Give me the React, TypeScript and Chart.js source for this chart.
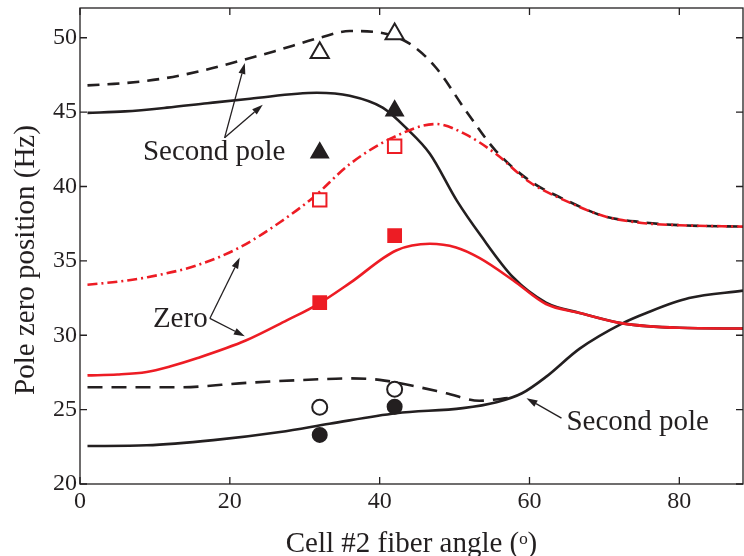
import React, { useEffect, useRef } from "react";
import { Chart, registerables } from "chart.js";

Chart.register(...registerables);

const RED = "#ED1C24";
const BLACK = "#231F20";
const FONT = "'Liberation Serif', 'DejaVu Serif', serif";

// axis ticks
const xTicks = [0, 20, 40, 60, 80];
const yTicks = [20, 25, 30, 35, 40, 45, 50];
const yTitle = "Pole zero position (Hz)";
const xTitle = "Cell #2 fiber angle (ᵒ)";

// upper "second pole" dashed curve
const upperDashX = [1, 6, 11, 16, 21, 26, 32, 36, 40, 44, 47.5, 51.5, 55.5, 60, 65, 70, 75, 80, 88.5];
const upperDashY = [46.8, 46.95, 47.25, 47.75, 48.4, 49.1, 50.0, 50.45, 50.35, 49.6, 48.0, 45.1, 42.4, 40.4, 39.05, 38.0, 37.6, 37.4, 37.3];

// upper "second pole" solid curve
const upperSolidX = [1, 6, 11.6, 17, 22.7, 31.6, 36, 40.4, 43.6, 46.7, 50.3, 53.5, 57.8, 62.2, 66.7, 72.4, 80, 88.5];
const upperSolidY = [44.95, 45.05, 45.3, 45.6, 45.9, 46.3, 46.1, 45.3, 43.9, 42.2, 39.05, 36.7, 33.9, 32.2, 31.5, 30.8, 30.5, 30.45];

// "zero" dash-dot curve
const zeroDashX = [1, 5, 9, 15.6, 21.3, 26.7, 31.1, 36, 41.8, 47.5, 51.5, 55.5, 60, 65, 70, 75, 80, 88.5];
const zeroDashY = [33.4, 33.6, 33.9, 34.7, 35.9, 37.6, 39.25, 41.5, 43.3, 44.2, 43.5, 42.2, 40.3, 39.0, 38.0, 37.55, 37.4, 37.3];

// "zero" solid curve
const zeroSolidX = [1, 5, 8.9, 12, 15.6, 22.2, 27.6, 31.8, 36, 42.2, 46.7, 50.2, 53.3, 57.8, 62.2, 66.7, 72.4, 80, 88.5];
const zeroSolidY = [27.3, 27.36, 27.53, 27.9, 28.45, 29.66, 31.0, 32.1, 33.5, 35.7, 36.15, 35.9, 35.2, 33.7, 32.1, 31.5, 30.8, 30.5, 30.45];

// lower dashed curve
const lowerDashX = [1, 13.3, 22.2, 32.4, 36, 40, 44.4, 48.9, 53.3, 57.5];
const lowerDashY = [26.5, 26.5, 26.8, 27.05, 27.1, 27.0, 26.6, 26.1, 25.6, 25.8];

// lower "second pole" solid curve
const lowerSolidX = [1, 8.9, 17.8, 26.7, 33.3, 42.2, 51.1, 55.6, 59, 62.2, 66.7, 72.4, 75.6, 81.3, 88.5];
const lowerSolidY = [22.55, 22.6, 22.95, 23.5, 24.05, 24.76, 25.1, 25.5, 26.1, 27.2, 29.1, 30.8, 31.5, 32.5, 33.0];

// measured points
const measX = [32, 42];
const openTriY = [49.0, 50.25];
const fillTriY = [42.27, 45.1];
const openSqY = [39.1, 42.7];
const fillSqY = [32.2, 36.7];
const openCircY = [25.16, 26.37];
const fillCircY = [23.3, 25.2];

// annotations (data coordinates)
const noteTexts = [
  { text: "Second pole", x: 8.4, y: 41.8 },
  { text: "Zero", x: 9.73, y: 30.53 },
  { text: "Second pole", x: 64.93, y: 23.62 },
];
const noteArrows = [
  { fx: 19.3, fy: 43.27, tx: 22.0, ty: 48.3 },
  { fx: 19.3, fy: 43.27, tx: 24.4, ty: 45.5 },
  { fx: 17.33, fy: 31.13, tx: 21.33, ty: 35.22 },
  { fx: 17.33, fy: 31.13, tx: 22.0, ty: 29.93 },
  { fx: 64.27, fy: 24.43, tx: 59.6, ty: 25.77 },
];

const pts = (xs: number[], ys: number[]) => xs.map((x, i) => ({ x, y: ys[i] }));

const framePlugin = {
  id: "frameNotes",
  afterDatasetsDraw(chart: any) {
    const { ctx, chartArea: a, scales } = chart;
    const xs = scales.x;
    const ys = scales.y;
    ctx.save();
    ctx.strokeStyle = BLACK;
    ctx.lineWidth = 1.3;
    ctx.strokeRect(a.left, a.top, a.right - a.left, a.bottom - a.top);
    const tl = 7;
    ctx.beginPath();
    xTicks.forEach((v) => {
      const p = xs.getPixelForValue(v);
      ctx.moveTo(p, a.bottom);
      ctx.lineTo(p, a.bottom - tl);
      ctx.moveTo(p, a.top);
      ctx.lineTo(p, a.top + tl);
    });
    yTicks.forEach((v) => {
      const p = ys.getPixelForValue(v);
      ctx.moveTo(a.left, p);
      ctx.lineTo(a.left + tl, p);
      ctx.moveTo(a.right, p);
      ctx.lineTo(a.right - tl, p);
    });
    ctx.stroke();

    // y axis title
    ctx.fillStyle = BLACK;
    ctx.font = `29px ${FONT}`;
    ctx.save();
    ctx.translate(26, (a.top + a.bottom) / 2 + 14);
    ctx.rotate(-Math.PI / 2);
    ctx.textAlign = "center";
    ctx.textBaseline = "middle";
    ctx.fillText(yTitle, 0, 0);
    ctx.restore();

    // annotation text
    ctx.textAlign = "left";
    ctx.textBaseline = "alphabetic";
    noteTexts.forEach((n) => {
      ctx.fillText(n.text, xs.getPixelForValue(n.x), ys.getPixelForValue(n.y));
    });

    // arrows
    ctx.lineWidth = 1.3;
    noteArrows.forEach((r) => {
      const x1 = xs.getPixelForValue(r.fx);
      const y1 = ys.getPixelForValue(r.fy);
      const x2 = xs.getPixelForValue(r.tx);
      const y2 = ys.getPixelForValue(r.ty);
      const ang = Math.atan2(y2 - y1, x2 - x1);
      const hl = 11;
      const hw = 3.5;
      const bx = x2 - hl * Math.cos(ang);
      const by = y2 - hl * Math.sin(ang);
      ctx.beginPath();
      ctx.moveTo(x1, y1);
      ctx.lineTo(bx, by);
      ctx.stroke();
      ctx.beginPath();
      ctx.moveTo(x2, y2);
      ctx.lineTo(bx + hw * Math.sin(ang), by - hw * Math.cos(ang));
      ctx.lineTo(bx - hw * Math.sin(ang), by + hw * Math.cos(ang));
      ctx.closePath();
      ctx.fill();
    });
    ctx.restore();
  },
};

export default function App() {
  const ref = useRef<HTMLCanvasElement | null>(null);

  useEffect(() => {
    if (!ref.current) return;
    const line = (data: any, color: string, dash: number[]) => ({
      type: "line",
      data,
      borderColor: color,
      borderWidth: 2.6,
      borderDash: dash,
      pointRadius: 0,
      fill: false,
      cubicInterpolationMode: "monotone",
      showLine: true,
    });
    const marks = (ys: number[], style: string, fillCol: string, edge: string, r: number) => ({
      type: "scatter",
      data: pts(measX, ys),
      pointStyle: style,
      pointRadius: r,
      pointBackgroundColor: fillCol,
      pointBorderColor: edge,
      pointBorderWidth: 2,
      showLine: false,
    });
    const zeroPad = (s: any) => {
      s.paddingTop = 0;
      s.paddingBottom = 0;
      s.paddingLeft = 0;
      s.paddingRight = 0;
    };
    const chart = new Chart(ref.current, {
      type: "scatter",
      data: {
        datasets: [
          marks(openTriY, "triangle", "#ffffff", BLACK, 10.5),
          marks(fillTriY, "triangle", BLACK, BLACK, 9.5),
          marks(openSqY, "rect", "#ffffff", RED, 9.5),
          marks(fillSqY, "rect", RED, RED, 9),
          marks(openCircY, "circle", "#ffffff", BLACK, 7.5),
          marks(fillCircY, "circle", BLACK, BLACK, 7),
          line(pts(zeroSolidX, zeroSolidY), RED, []),
          line(pts(zeroDashX, zeroDashY), RED, [10, 4, 2, 4]),
          line(pts(upperSolidX, upperSolidY), BLACK, []),
          line(pts(upperDashX, upperDashY), BLACK, [12, 8]),
          line(pts(lowerDashX, lowerDashY), BLACK, [15, 9]),
          line(pts(lowerSolidX, lowerSolidY), BLACK, []),
        ] as any,
      },
      options: {
        animation: false,
        responsive: false,
        events: [],
        layout: { autoPadding: false, padding: { top: 8, right: 1, left: 0, bottom: 0 } },
        plugins: { legend: { display: false }, tooltip: { enabled: false } },
        scales: {
          x: {
            type: "linear",
            min: 0,
            max: 88.5,
            grid: { display: false, drawTicks: false },
            border: { display: false },
            afterBuildTicks: (s: any) => {
              s.ticks = xTicks.map((v) => ({ value: v }));
            },
            afterFit: (s: any) => {
              s.height = 72;
              zeroPad(s);
            },
            ticks: {
              color: BLACK,
              font: { family: FONT, size: 24 },
              padding: 3,
              maxRotation: 0,
            },
            title: {
              display: true,
              text: xTitle,
              color: BLACK,
              font: { family: FONT, size: 29, lineHeight: 1 },
              padding: { top: 0, bottom: -3 },
            },
          },
          y: {
            type: "linear",
            min: 20,
            max: 52,
            grid: { display: false, drawTicks: false },
            border: { display: false },
            afterBuildTicks: (s: any) => {
              s.ticks = yTicks.map((v) => ({ value: v }));
            },
            afterFit: (s: any) => {
              s.width = 80;
              zeroPad(s);
            },
            ticks: {
              color: BLACK,
              font: { family: FONT, size: 24 },
              padding: 3,
            },
          },
        },
      },
      plugins: [framePlugin],
    } as any);
    return () => chart.destroy();
  }, []);

  return (
    <div style={{ position: "fixed", left: 0, top: 0, width: 744, height: 556, background: "#ffffff" }}>
      <canvas ref={ref} width={744} height={556} style={{ display: "block" }} />
    </div>
  );
}
